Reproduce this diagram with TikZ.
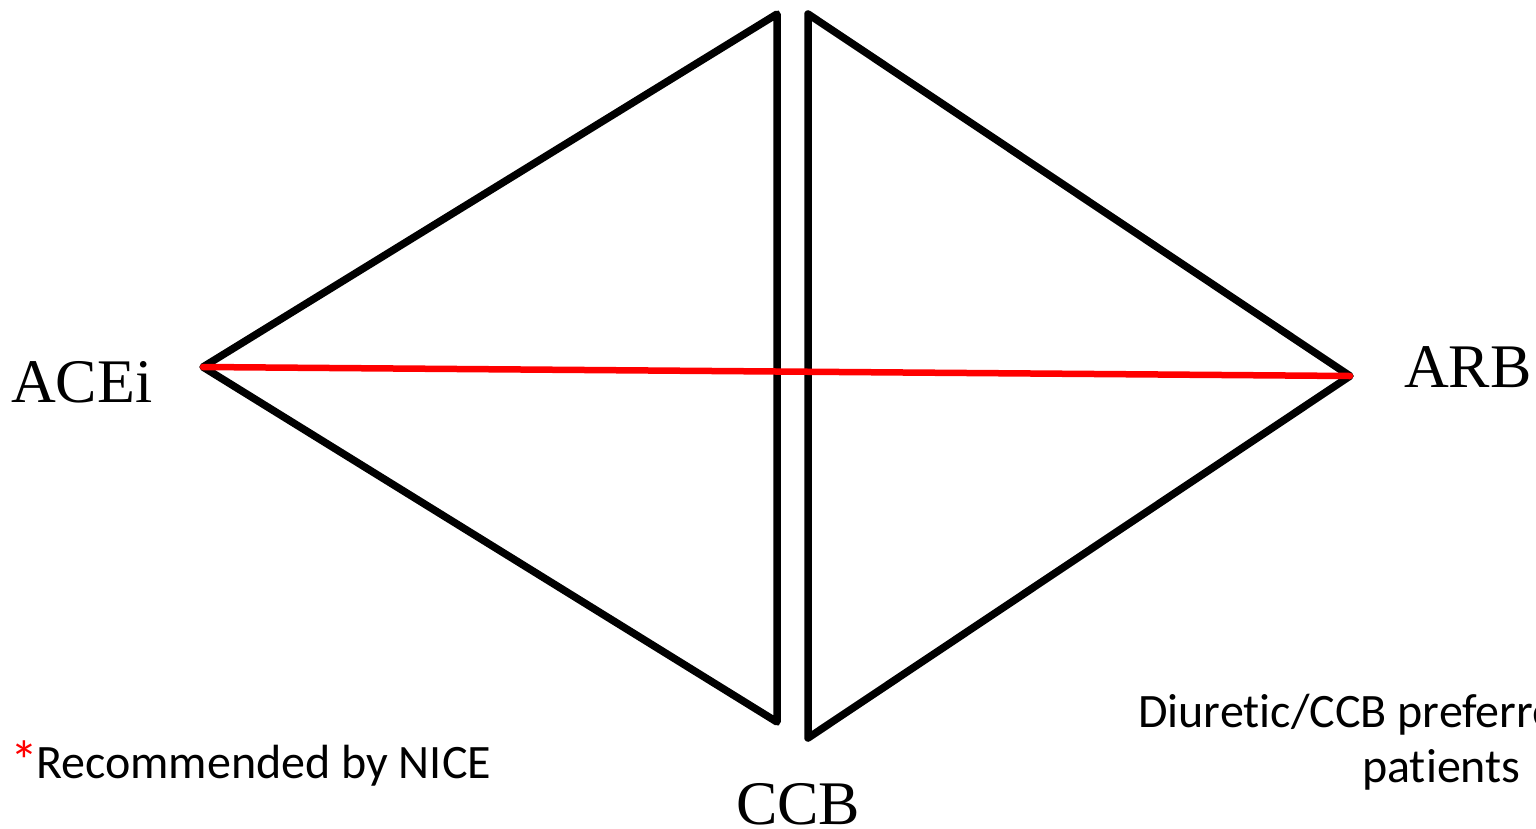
\documentclass[tikz,border=0pt]{standalone}
\usepackage{fontspec}
\setmainfont{Liberation Serif}
\newfontfamily\calib[Ligatures={NoCommon,NoRare,NoContextual}]{Carlito}
\begin{document}
\begin{tikzpicture}[x=1pt,y=-1pt,
  tri/.style={draw=black,line width=7.5pt,line join=round,line cap=round},
  redline/.style={draw=red,line width=6.5pt,line cap=round},
  biglabel/.style={font=\fontsize{62}{70}\selectfont,inner sep=0pt,anchor=base west},
  note/.style={font=\calib\fontsize{48}{56}\selectfont,inner sep=0pt,anchor=base west}]
\useasboundingbox (0,0) rectangle (1536,828);
% vertices
\coordinate (LT) at (777,14);
\coordinate (LB) at (777,722);
\coordinate (L) at (203,367);
\coordinate (RT) at (808,14);
\coordinate (RB) at (808,738);
\coordinate (R) at (1350,376);
% triangles
\draw[tri] (LT) -- (LB) -- (L) -- cycle;
\draw[tri] (RT) -- (RB) -- (R) -- cycle;
% red line
\draw[redline] (L) -- (R);
% labels
\node[biglabel] (acei) at (11,402) {ACEi};
\node[biglabel] (arb) at (1404,387) {ARB};
\node[biglabel] (ccb) at (736,824) {CCB};
\node[note] (rec) at (10,778) {\textcolor{red}{\fontsize{56}{56}\selectfont\raisebox{-2pt}{*}}\kern-2pt Recommended by NICE};
\node[note] (diu) at (1138,727) {Diuretic/CCB preferred};
\node[note] (pat) at (1362,782) {patients};
\end{tikzpicture}
\end{document}
